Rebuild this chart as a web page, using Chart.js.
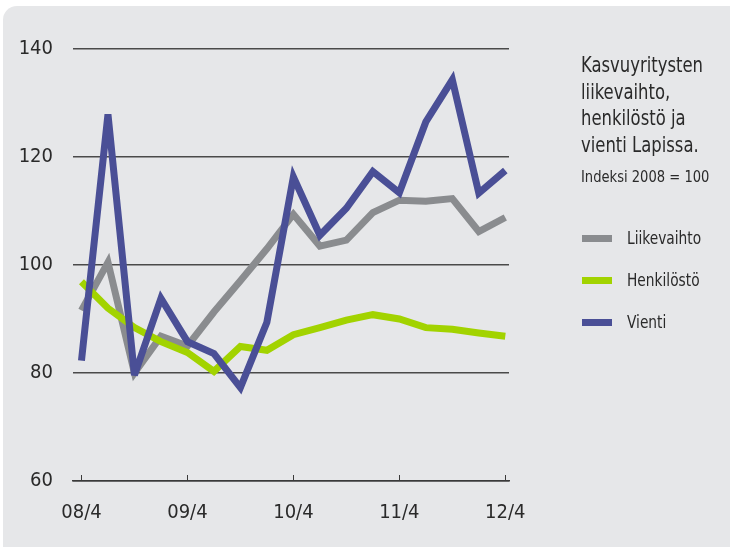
<!DOCTYPE html>
<html>
<head>
<meta charset="utf-8">
<script src="https://cdn.jsdelivr.net/npm/chart.js@4/dist/chart.umd.min.js"></script>
<style>
  html, body { margin: 0; padding: 0; background: #fff; }
  body { width: 730px; height: 547px; position: relative; overflow: hidden;
         font-family: 'Liberation Sans Narrow', 'DejaVu Sans Condensed', sans-serif; color: #2a2a2a; }
  #panel { position: fixed; left: 3px; top: 6px; right: -40px; bottom: -40px;
           background: #e6e7e9; border-radius: 14px 0 0 0; }
  #chartBox { position: absolute; left: 0; top: 0; width: 730px; height: 547px; }
  .txt { position: absolute; left: 581px; transform-origin: 0 0; white-space: nowrap; }
  #title { top: 52px; font-size: 21px; line-height: 26.7px; transform: scaleX(0.87); }
  #subtitle { top: 167px; font-size: 16px; line-height: 20px; transform: scaleX(0.91); }
  .leg { position: absolute; left: 582px; font-size: 18px; line-height: 20px; }
  .leg span.sw { position: absolute; left: 0; top: 7px; width: 30px; height: 7px; }
  .leg span.tx { position: absolute; left: 45px; top: 0; white-space: nowrap;
                 transform: scaleX(0.85); transform-origin: 0 0; }
</style>
</head>
<body>
<div id="panel"></div>
<div id="chartBox"><canvas id="chart" width="730" height="547"></canvas></div>
<div id="title" class="txt">Kasvuyritysten<br>liikevaihto,<br>henkilöstö ja<br>vienti Lapissa.</div>
<div id="subtitle" class="txt">Indeksi 2008 = 100</div>
<div id="legend"></div>
<script>
// quarterly index values, 2008 = 100
const quarters = ['08/4', '09/1', '09/2', '09/3', '09/4', '10/1', '10/2', '10/3', '10/4',
                  '11/1', '11/2', '11/3', '11/4', '12/1', '12/2', '12/3', '12/4'];
const liikevaihto = [91.6, 100.5, 80.0, 86.8, 85.0, 91.3, 97.1, 103.0, 109.4, 103.5, 104.6, 109.7, 112.0, 111.8, 112.3, 106.2, 108.8];
const henkilosto = [96.9, 92.0, 88.4, 85.8, 83.8, 80.3, 84.9, 84.2, 87.1, 88.4, 89.8, 90.8, 90.0, 88.4, 88.1, 87.4, 86.8];
const vienti = [82.3, 127.9, 79.6, 93.8, 85.8, 83.6, 77.3, 89.4, 116.3, 105.5, 110.5, 117.3, 113.4, 126.5, 134.3, 113.3, 117.5];

const yTicks = [60, 80, 100, 120, 140];
const xTickLabels = ['08/4', '09/4', '10/4', '11/4', '12/4'];

const seriesNames = ['Liikevaihto', 'Henkilöstö', 'Vienti'];
const seriesColors = ['#8a8c8f', '#a2d300', '#4a4f96'];

const FONT = "'Liberation Sans Narrow', 'DejaVu Sans Condensed', sans-serif";

// legend on the right
const legendEl = document.getElementById('legend');
seriesNames.forEach(function(name, i) {
    const row = document.createElement('div');
    row.className = 'leg';
    row.style.top = (228 + i * 42) + 'px';
    row.innerHTML = '<span class="sw" style="background:' + seriesColors[i] + '"></span><span class="tx">' + name + '</span>';
    legendEl.appendChild(row);
});

function toPoints(values) {
    return values.map(function(v, i) { return { x: i, y: v }; });
}

// clip very sharp spikes like the original artwork
const joinLimit = {
    id: 'joinLimit',
    beforeDatasetsDraw: function(chart) {
        chart.ctx.miterLimit = 4;
    }
};

// small upward tick marks on the x axis line
const axisTicks = {
    id: 'axisTicks',
    afterDraw: function(chart) {
        const ctx = chart.ctx;
        const xs = chart.scales.x;
        const bottom = chart.chartArea.bottom;
        ctx.save();
        ctx.strokeStyle = '#3a3a3a';
        ctx.lineWidth = 1;
        xTickLabels.forEach(function(lbl) {
            const px = Math.round(xs.getPixelForValue(quarters.indexOf(lbl))) + 0.5;
            ctx.beginPath();
            ctx.moveTo(px, bottom);
            ctx.lineTo(px, bottom - 6);
            ctx.stroke();
        });
        ctx.restore();
    }
};

const ctx = document.getElementById('chart').getContext('2d');
new Chart(ctx, {
    type: 'line',
    data: {
        datasets: [
            { label: seriesNames[2], data: toPoints(vienti), borderColor: seriesColors[2], order: 0 },
            { label: seriesNames[1], data: toPoints(henkilosto), borderColor: seriesColors[1], order: 1 },
            { label: seriesNames[0], data: toPoints(liikevaihto), borderColor: seriesColors[0], order: 2 }
        ]
    },
    options: {
        responsive: false,
        animation: false,
        events: [],
        layout: { padding: { left: 1, right: 221, top: 49, bottom: 20 } },
        elements: {
            line: { borderWidth: 7, tension: 0, borderJoinStyle: 'miter', borderCapStyle: 'butt', fill: false },
            point: { radius: 0 }
        },
        plugins: { legend: { display: false }, tooltip: { enabled: false } },
        scales: {
            x: {
                type: 'linear',
                min: -0.32,
                max: 16.14,
                afterFit: function(s) { s.height = 46; },
                afterBuildTicks: function(s) {
                    s.ticks = xTickLabels.map(function(l) { return { value: quarters.indexOf(l) }; });
                },
                ticks: {
                    callback: function(v) { return quarters[v]; },
                    font: { family: FONT, size: 20 },
                    color: '#2a2a2a',
                    padding: 20,
                    maxRotation: 0
                },
                grid: { display: false, drawTicks: false },
                border: { display: true, color: '#3a3a3a', width: 1.5 }
            },
            y: {
                min: 60,
                max: 140,
                afterFit: function(s) { s.width = 72; },
                afterBuildTicks: function(s) {
                    s.ticks = yTicks.map(function(v) { return { value: v }; });
                },
                ticks: {
                    font: { family: FONT, size: 20 },
                    color: '#2a2a2a',
                    padding: 20
                },
                grid: { color: '#4a4a4a', lineWidth: 1.5, drawTicks: false },
                border: { display: false }
            }
        }
    },
    plugins: [joinLimit, axisTicks]
});
</script>
</body>
</html>
